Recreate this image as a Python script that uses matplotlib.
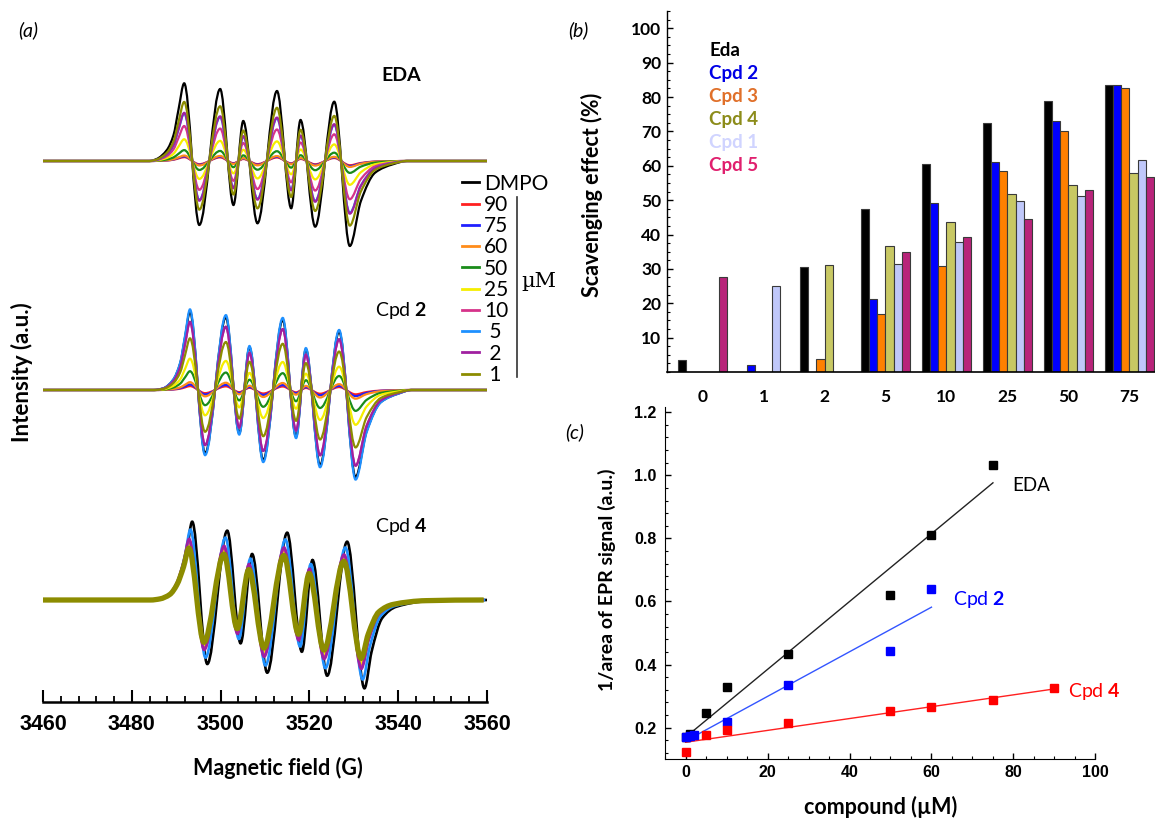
import numpy as np
import matplotlib
matplotlib.use("Agg")
import matplotlib.pyplot as plt
from matplotlib.ticker import MultipleLocator, FixedLocator, FormatStrFormatter
from matplotlib.path import Path
from matplotlib.patches import PathPatch
from matplotlib.lines import Line2D

plt.rcParams['font.family'] = ['Lato', 'DejaVu Sans']
plt.rcParams['mathtext.fontset'] = 'custom'
plt.rcParams['mathtext.rm'] = 'Lato'
plt.rcParams['mathtext.bf'] = 'Lato:bold'

# ---------------- (a) EPR spectra ----------------
# DMPO reference trace of each panel, read at its turning points (field in G, a.u.)
eda_field = [3460, 3484, 3485.6, 3487.9, 3489.4, 3490.5, 3491.8, 3495.2, 3499.9, 3502.9, 3505.1, 3508.3,
             3512.7, 3515.9, 3518.0, 3521.3, 3525.6, 3529.1, 3531.6, 3534.8, 3538.8, 3542, 3560]
eda_dmpo = [0, 0, 0.02, 0.11, 0.26, 0.51, 0.777, -0.64, 0.72, -0.44, 0.40, -0.623,
            0.70, -0.473, 0.41, -0.657, 0.593, -0.85, -0.40, -0.117, -0.033, 0, 0]

cpd2_field = [3460, 3485, 3487.1, 3489.3, 3490.9, 3492.0, 3493.1, 3496.5, 3501.2, 3504.2, 3506.5, 3509.6,
              3514.0, 3517.0, 3519.2, 3522.4, 3526.7, 3530.4, 3532.9, 3536.1, 3540.1, 3543, 3560]
cpd2_dmpo = [0, 0, 0.017, 0.10, 0.267, 0.53, 0.783, -0.633, 0.727, -0.433, 0.427, -0.70,
             0.70, -0.467, 0.407, -0.75, 0.583, -0.87, -0.41, -0.12, -0.035, 0, 0]

cpd4_field = [3460, 3485, 3487.1, 3489.3, 3490.9, 3492.4, 3493.6, 3497.0, 3501.5, 3504.5, 3507.1, 3510.5,
              3515.0, 3518.3, 3520.7, 3524.0, 3528.5, 3532.4, 3534.0, 3536.4, 3539.6, 3547, 3560]
cpd4_dmpo = [0, 0, 0.017, 0.083, 0.23, 0.50, 0.783, -0.64, 0.693, -0.433, 0.46, -0.727,
             0.673, -0.517, 0.40, -0.757, 0.583, -0.883, -0.517, -0.18, -0.067, -0.01, 0]

# concentrations (uM) and their relative amplitude / field shift in each panel
conc_labels = ['90', '75', '60', '50', '25', '10', ' 5', ' 2', ' 1']
conc_colors = ['#FF2020', '#2020FF', '#FF8C1A', '#1A8C1A', '#F5EE00',
               '#D6338A', '#1E90FF', '#A020A0', '#8C8C00']
eda_amp = [0.05, 0.06, 0.07, 0.14, 0.28, 0.45, 0.61, 0.62, 0.76]
eda_shift = [0, 0, 0, 0, 0, 0, 0, 0, 0]
cpd2_amp = [0.05, 0.07, 0.10, 0.24, 0.40, 0.87, 1.03, 0.87, 0.66]
cpd2_shift = [0, 0, 0, 0, 0, 0, 0, 0, 0]
cpd4_amp = [0.72, 0.74, 0.72, 0.70, 0.72, 0.76, 0.90, 0.78, 0.66]
cpd4_shift = [-0.7, -0.6, -0.7, -0.8, -0.7, -0.7, -0.4, -0.7, -0.75]

# ---------------- (b) scavenging effect (%) ----------------
groups = ['0', '1', '2', '5', '10', '25', '50', '75']
series = ['Eda', 'Cpd 2', 'Cpd 3', 'Cpd 4', 'Cpd 1', 'Cpd 5']
eda_scav = [3.4, 0, 30.6, 47.5, 60.5, 72.3, 78.9, 83.4]
cpd2_scav = [0, 2.1, 0, 21.2, 49.2, 61.1, 73.1, 83.4]
cpd3_scav = [0, 0, 3.9, 16.8, 30.8, 58.4, 70.1, 82.5]
cpd4_scav = [0, 0, 31.1, 36.6, 43.5, 51.9, 54.4, 57.8]
cpd1_scav = [0, 25.1, 0, 31.4, 37.9, 49.7, 51.2, 61.7]
cpd5_scav = [27.5, 0, 0, 34.8, 39.4, 44.4, 52.9, 56.8]

# ---------------- (c) 1/area of EPR signal ----------------
eda_conc = [0, 1, 5, 10, 25, 50, 60, 75]
eda_inv = [0.17, 0.181, 0.247, 0.329, 0.435, 0.622, 0.812, 1.034]
cpd2_conc = [0, 1, 2, 10, 25, 50, 60]
cpd2_inv = [0.171, 0.175, 0.176, 0.218, 0.337, 0.443, 0.640]
cpd4_conc = [0, 5, 10, 25, 50, 60, 75, 90]
cpd4_inv = [0.123, 0.176, 0.192, 0.216, 0.252, 0.265, 0.287, 0.327]
# fitted lines, end points
eda_fit_x, eda_fit_y = [0, 75], [0.17, 0.976]
cpd2_fit_x, cpd2_fit_y = [0, 60], [0.158, 0.582]
cpd4_fit_x, cpd4_fit_y = [0, 90], [0.154, 0.323]


def smooth_path(x, y):
    """bezier path through the read points (monotone cubic, flat at extrema)"""
    x = np.asarray(x, float)
    y = np.asarray(y, float)
    h = np.diff(x)
    d = np.diff(y) / h
    m = np.zeros_like(y)
    for i in range(1, len(y) - 1):
        if d[i - 1] * d[i] > 0:
            w1 = 2 * h[i] + h[i - 1]
            w2 = h[i] + 2 * h[i - 1]
            m[i] = (w1 + w2) / (w1 / d[i - 1] + w2 / d[i])
    verts = [(x[0], y[0])]
    codes = [Path.MOVETO]
    for i in range(len(x) - 1):
        verts += [(x[i] + h[i] / 3, y[i] + m[i] * h[i] / 3),
                  (x[i + 1] - h[i] / 3, y[i + 1] - m[i + 1] * h[i] / 3),
                  (x[i + 1], y[i + 1])]
        codes += [Path.CURVE4] * 3
    return Path(verts, codes)


fig = plt.figure(figsize=(11.55, 8.18), dpi=100)
axa = fig.add_axes([0.03723, 0.14218, 0.38442, 0.84560])
axb = fig.add_axes([0.57749, 0.54523, 0.42251, 0.4412])
axc = fig.add_axes([0.57584, 0.07176, 0.37255, 0.4302])

tick_font = ['Liberation Sans', 'DejaVu Sans']

# ---- panel (a)
panels = [(eda_field, eda_dmpo, eda_amp, eda_shift, 5.407, 1.6),
          (cpd2_field, cpd2_dmpo, cpd2_amp, cpd2_shift, 3.117, 1.6),
          (cpd4_field, cpd4_dmpo, cpd4_amp, cpd4_shift, 1.017, 1.9)]
for i, (field, dmpo, amp, shift, base, lw) in enumerate(panels):
    x = np.asarray(field)
    y = np.asarray(dmpo)
    axa.add_patch(PathPatch(smooth_path(x, base + y), fill=False,
                            edgecolor='black', lw=lw))
    for lab, col, a, s in zip(conc_labels, conc_colors, amp, shift):
        w = lw
        if i == 2 and lab == ' 1':
            w = 3.8
        axa.add_patch(PathPatch(smooth_path(x + s, base + a * y), fill=False,
                                edgecolor=col, lw=w))

axa.set_xlim(3460, 3560)
axa.set_ylim(0, 6.917)
for sp in ['left', 'right', 'top']:
    axa.spines[sp].set_visible(False)
axa.spines['bottom'].set_linewidth(1.8)
axa.set_yticks([])
axa.xaxis.set_major_locator(MultipleLocator(20))
axa.xaxis.set_minor_locator(MultipleLocator(4))
axa.tick_params(axis='x', which='major', direction='in', length=8.4, width=1.5, pad=9)
axa.tick_params(axis='x', which='minor', direction='in', length=4.1, width=1.3)
for t in axa.get_xticklabels():
    t.set_fontfamily(tick_font)
    t.set_fontweight('bold')
    t.set_fontsize(15.5)
axa.set_xlabel('Magnetic field (G)', fontsize=15.5, fontweight='bold')
axa.xaxis.set_label_coords(0.529, -0.0963)
axa.xaxis.label.set_va('center')

handles = [Line2D([], [], color=c, lw=2) for c in ['black'] + conc_colors]
axa.legend(handles, ['DMPO'] + conc_labels, loc='upper left',
           bbox_to_anchor=(0.9437, 0.7633), frameon=False, fontsize=15,
           handlelength=0.8, handletextpad=0.25, labelspacing=0.06,
           borderpad=0, borderaxespad=0)
axa.plot([1.0669, 1.0669], [0.7301, 0.4699], transform=axa.transAxes,
         color='#333333', lw=1.2, clip_on=False)
axa.text(1.078, 0.6072, '\u00b5M', transform=axa.transAxes, fontsize=15,
         ha='left', va='center', family=['DejaVu Serif', 'DejaVu Sans'])

axa.text(0.806, 0.906, 'EDA', transform=axa.transAxes, fontsize=14,
         fontweight='bold', ha='center', va='center')
axa.text(0.748, 0.566, r'Cpd $\mathbf{2}$', transform=axa.transAxes, fontsize=14,
         ha='left', va='center')
axa.text(0.748, 0.253, r'Cpd $\mathbf{4}$', transform=axa.transAxes, fontsize=14,
         ha='left', va='center')

fig.text(22 / 1155, 1 - 372 / 818, 'Intensity (a.u.)', rotation=90, fontsize=16,
         fontweight='bold', ha='center', va='center')

# ---- panel (b)
bar_colors = ['#000000', '#0000FF', '#FF8000', '#C8C864', '#C0C8FA', '#B8247A']
text_colors = ['#000000', '#0000E6', '#E0702A', '#8C8C1A', '#D0D4FF', '#E0206E']
scav = [eda_scav, cpd2_scav, cpd3_scav, cpd4_scav, cpd1_scav, cpd5_scav]
bw = 0.1344
gx = np.arange(len(groups))
for k, (vals, col) in enumerate(zip(scav, bar_colors)):
    v = np.asarray(vals, dtype=float)
    keep = v > 0
    axb.bar(gx[keep] + (k - 2.5) * bw, v[keep], width=bw, color=col,
            edgecolor='#3a3a3a', linewidth=0.8)
axb.set_xlim(-0.583, 7.42)
axb.set_ylim(0, 105)
for sp in ['right', 'top']:
    axb.spines[sp].set_visible(False)
axb.spines['left'].set_linewidth(1.0)
axb.spines['bottom'].set_linewidth(1.2)
axb.yaxis.set_major_locator(FixedLocator(range(10, 101, 10)))
axb.yaxis.set_minor_locator(MultipleLocator(2.5))
axb.tick_params(axis='y', which='major', direction='in', length=4.3, width=1, pad=4,
                labelsize=12.5)
axb.tick_params(axis='y', which='minor', direction='in', length=2.2, width=0.8)
axb.set_xticks(gx)
axb.set_xticklabels(groups)
axb.tick_params(axis='x', length=0, pad=12, labelsize=12.5)
for t in axb.get_xticklabels() + axb.get_yticklabels():
    t.set_fontweight('bold')
axb.set_xlabel('compound (\u00b5M)', fontsize=14, fontweight='bold')
axb.xaxis.set_label_coords(0.5, -0.129)
axb.xaxis.label.set_va('center')
axb.set_ylabel('Scavenging effect (%)', fontsize=15.5, fontweight='bold')
axb.yaxis.set_label_coords(-0.154, 0.49)
axb.yaxis.label.set_va('center')
for k, (name, col) in enumerate(zip(series, text_colors)):
    axb.text(0.0861, 0.8918 - k * 0.0638, name, transform=axb.transAxes, color=col,
             fontsize=13.5, fontweight='bold', ha='left', va='center')

# ---- panel (c)
axc.plot(eda_fit_x, eda_fit_y, color='#222222', lw=1)
axc.plot(cpd2_fit_x, cpd2_fit_y, color='#3355FF', lw=1)
axc.plot(cpd4_fit_x, cpd4_fit_y, color='#FF2020', lw=1)
axc.plot(eda_conc, eda_inv, 's', color='black', ms=5.5)
axc.plot(cpd2_conc, cpd2_inv, 's', color='#0000FF', ms=5.5)
axc.plot(cpd4_conc, cpd4_inv, 's', color='#FF0000', ms=5.5)
axc.set_xlim(-5, 100)
axc.set_ylim(0.1, 1.215)
for sp in ['right', 'top']:
    axc.spines[sp].set_visible(False)
axc.xaxis.set_major_locator(MultipleLocator(20))
axc.xaxis.set_minor_locator(MultipleLocator(5))
axc.yaxis.set_major_locator(MultipleLocator(0.2))
axc.yaxis.set_minor_locator(MultipleLocator(0.04))
axc.yaxis.set_major_formatter(FormatStrFormatter('%.1f'))
axc.tick_params(which='major', direction='in', length=4, width=1, labelsize=11.5)
axc.tick_params(which='minor', direction='in', length=2, width=0.8)
axc.tick_params(axis='x', pad=4)
axc.tick_params(axis='y', pad=6)
for t in axc.get_xticklabels() + axc.get_yticklabels():
    t.set_fontfamily(tick_font)
    t.set_fontweight('bold')
axc.set_xlabel('compound (\u00b5M)', fontsize=15.5, fontweight='bold')
axc.xaxis.set_label_coords(0.5, -0.1347)
axc.xaxis.label.set_va('center')
axc.set_ylabel('1/area of EPR signal (a.u.)', fontsize=14, fontweight='bold')
axc.yaxis.set_label_coords(-0.135, 0.51)
axc.yaxis.label.set_va('center')
axc.text(79.7, 0.969, 'EDA', fontsize=13.5, ha='left', va='center')
axc.text(65.2, 0.605, r'Cpd $\mathbf{2}$', color='#0000FF', fontsize=14,
         ha='left', va='center')
axc.text(93.3, 0.314, r'Cpd $\mathbf{4}$', color='#FF0000', fontsize=14,
         ha='left', va='center')

fig.text(28 / 1155, 1 - 30 / 818, '(a)', fontsize=14, style='italic', ha='center', va='center')
fig.text(578 / 1155, 1 - 30 / 818, '(b)', fontsize=14, style='italic', ha='center', va='center')
fig.text(575 / 1155, 1 - 432 / 818, '(c)', fontsize=14, style='italic', ha='center', va='center')

fig.savefig('out.png', dpi=100)
